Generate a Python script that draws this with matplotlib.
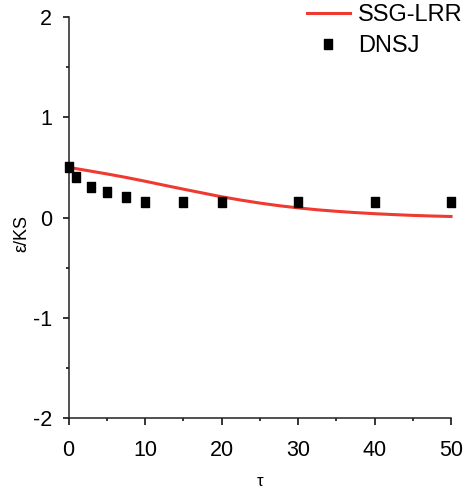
import matplotlib
matplotlib.use("Agg")
import matplotlib.pyplot as plt
from matplotlib.ticker import MultipleLocator

plt.rcParams['font.family'] = ['Liberation Sans', 'DejaVu Sans']
plt.rcParams['axes.unicode_minus'] = False

# SSG-LRR model curve
tau_line = [0, 2.5, 5, 7.5, 10, 12.5, 15, 17.5, 20, 22.5, 25, 27.5, 30,
            32.5, 35, 37.5, 40, 42.5, 45, 47.5, 50]
eps_line = [0.50, 0.468, 0.435, 0.40, 0.362, 0.322, 0.283, 0.245, 0.207, 0.174, 0.144,
            0.118, 0.096, 0.077, 0.062, 0.049, 0.038, 0.029, 0.021, 0.015, 0.01]

# DNSJ data
tau_dns = [0, 1, 3, 5, 7.5, 10, 15, 20, 30, 40, 50]
eps_dns = [0.50, 0.40, 0.30, 0.25, 0.20, 0.15, 0.15, 0.15, 0.15, 0.15, 0.15]

W, H = 464, 491
fig = plt.figure(figsize=(W / 100, H / 100), dpi=100)
ax = fig.add_axes([68.5 / W, (H - 418) / H, (451 - 68.5) / W, (418 - 17) / H])

rect = [(-0.4, -0.5), (0.4, -0.5), (0.4, 0.5), (-0.4, 0.5), (-0.4, -0.5)]
ax.plot(tau_line, eps_line, color='#ee3a30', lw=2.2, label='SSG-LRR', clip_on=False, zorder=2)
ax.plot(tau_dns, eps_dns, ls='none', marker=rect, ms=7.5, color='black', label='DNSJ',
        clip_on=False, zorder=3)

ax.set_xlim(0, 50)
ax.set_ylim(-2, 2)
ax.xaxis.set_major_locator(MultipleLocator(10))
ax.xaxis.set_minor_locator(MultipleLocator(5))
ax.yaxis.set_major_locator(MultipleLocator(1))
ax.yaxis.set_minor_locator(MultipleLocator(0.5))

for s in ['top', 'right']:
    ax.spines[s].set_visible(False)
for s in ['left', 'bottom']:
    ax.spines[s].set_linewidth(1.1)
    ax.spines[s].set_color('#222222')

ax.tick_params(axis='x', which='major', direction='out', length=5, width=1.1, pad=11, labelsize=15.5)
ax.tick_params(axis='x', which='minor', direction='out', length=2.5, width=1.1)
ax.tick_params(axis='y', which='major', direction='out', length=4, width=1.1, pad=8, labelsize=15.5)
ax.tick_params(axis='y', which='minor', direction='out', length=2.5, width=1.1)

ax.set_xlabel('τ', fontsize=12)
ax.set_ylabel('ε/KS', fontsize=13)
ax.xaxis.set_label_coords(0.5, -0.14)
ax.yaxis.set_label_coords(-0.1, 0.46)

leg = fig.legend(loc='upper left', bbox_to_anchor=(307 / W, (H - 4) / H), frameon=False,
                 fontsize=17, handlelength=1.82, handletextpad=0.34, labelspacing=0.4,
                 borderpad=0, borderaxespad=0)

fig.savefig('out.png', dpi=100)
